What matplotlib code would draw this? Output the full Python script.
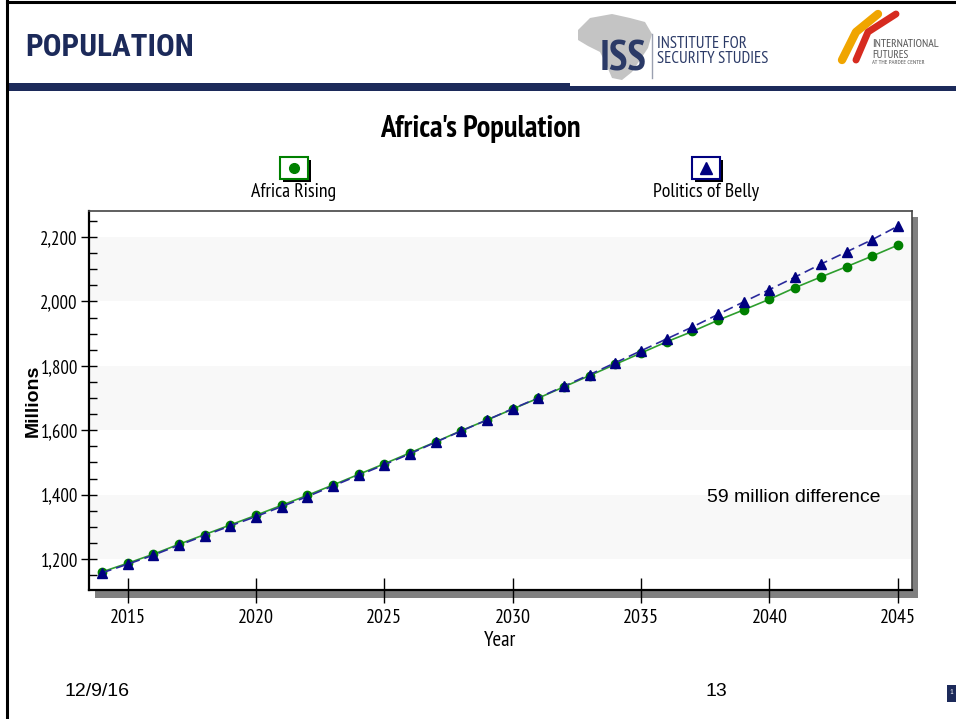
import matplotlib
matplotlib.use('Agg')
import matplotlib.pyplot as plt
from matplotlib.patches import Rectangle, Polygon
from matplotlib.lines import Line2D
from matplotlib.ticker import MultipleLocator, FuncFormatter

narrow = ['PT Sans Narrow', 'Archivo Narrow', 'Liberation Sans', 'DejaVu Sans']
cond = ['Roboto Condensed', 'PT Sans Narrow', 'Liberation Sans', 'DejaVu Sans']
plain = ['Liberation Sans', 'DejaVu Sans']
plt.rcParams['font.family'] = narrow

years = list(range(2014, 2046))
africa_rising = [1160, 1187, 1215, 1246, 1276, 1306, 1336, 1367, 1398, 1430,
                 1463, 1496, 1530, 1564, 1599, 1632, 1666, 1700, 1735, 1770,
                 1805, 1840, 1875, 1907, 1942, 1974, 2007, 2043, 2076, 2108,
                 2141, 2175]
politics_of_belly = [1157, 1184, 1212, 1243, 1273, 1303, 1332, 1363, 1394, 1427,
                     1460, 1493, 1527, 1563, 1598, 1632, 1667, 1701, 1737, 1773,
                     1810, 1847, 1884, 1921, 1960, 1999, 2037, 2076, 2116, 2154,
                     2192, 2234]
series_names = ['Africa Rising', 'Politics of Belly']
band_ranges = [(1200, 1400), (1600, 1800), (2000, 2200)]

W, H = 956, 719
navy = '#1c2a5a'
green = '#008000'
blue = '#000080'


def fx(px):
    return px / W


def fy(py):
    return 1 - py / H


fig = plt.figure(figsize=(W / 100, H / 100), dpi=100)

# slide frame + header bar
fig.add_artist(Line2D([fx(7), fx(7)], [0, 1], color='black', lw=2.2))
fig.add_artist(Line2D([fx(7), 1], [fy(2), fy(2)], color='black', lw=2.2))
fig.add_artist(Rectangle((fx(8), fy(91)), fx(562), 8 / H, color=navy, lw=0))
fig.add_artist(Rectangle((fx(570), fy(91)), fx(386), 5 / H, color=navy, lw=0))
fig.text(fx(25), fy(47), 'POPULATION', fontsize=22.5, fontweight='bold',
         color=navy, va='center', ha='left', family=cond)

# ISS logo (rough)
africa = [(578, 30), (590, 18), (612, 14), (630, 18), (645, 22), (652, 34),
          (648, 48), (640, 60), (632, 72), (622, 80), (612, 78), (606, 64),
          (600, 52), (588, 46), (578, 40)]
fig.add_artist(Polygon([(fx(a), fy(b)) for a, b in africa], closed=True,
                       color='#c4c4c4', lw=0))
fig.text(fx(623), fy(60), 'ISS', fontsize=30, fontweight='bold', color='#2b3a67',
         ha='center', va='center')
fig.add_artist(Line2D([fx(652), fx(652)], [fy(34), fy(78)], color='#9aa0b0', lw=1))
fig.text(fx(657), fy(44), 'INSTITUTE FOR', fontsize=12, color='#2b3a67', va='center')
fig.text(fx(657), fy(59), 'SECURITY STUDIES', fontsize=12, color='#2b3a67', va='center')

# IFs logo (rough)
fig.add_artist(Line2D([fx(842), fx(856), fx(878)], [fy(60), fy(32), fy(14)],
                      color='#f0a500', lw=6, solid_capstyle='round'))
fig.add_artist(Line2D([fx(856), fx(868), fx(896)], [fy(60), fy(32), fy(14)],
                      color='#d62b1f', lw=5, solid_capstyle='round'))
fig.text(fx(872), fy(44), 'INTERNATIONAL', fontsize=8.5, color='#555555', va='center')
fig.text(fx(872), fy(55), 'FUTURES', fontsize=8, color='#555555', va='center')
fig.text(fx(872), fy(63), 'AT THE PARDEE CENTER', fontsize=4.5, color='#555555', va='center')

# chart title
fig.text(fx(480), fy(129), "Africa's Population", fontsize=22, fontweight='bold',
         ha='center', va='center')

# legend boxes
legend_items = [(294, green, 'o', 7, series_names[0]),
                (706, blue, '^', 8, series_names[1])]
for cx, col, mk, ms, name in legend_items:
    fig.add_artist(Rectangle((fx(cx - 11), fy(182)), 28 / W, 22 / H,
                             facecolor='black', edgecolor='none', zorder=1))
    fig.add_artist(Rectangle((fx(cx - 14), fy(179)), 28 / W, 22 / H,
                             facecolor='white', edgecolor=col, lw=1.5, zorder=2))
    fig.add_artist(Line2D([fx(cx)], [fy(168)], marker=mk, color=col,
                          markersize=ms, zorder=3))
    fig.text(fx(cx), fy(192), name, fontsize=14.2, ha='center', va='center')

# axes shadow
fig.add_artist(Rectangle((fx(95), fy(598)), 823 / W, (598 - 217) / H,
                         facecolor='#808080', edgecolor='none', zorder=-1))

ax = fig.add_axes([fx(89), fy(590), (912 - 89) / W, (590 - 211) / H])
ax.set_facecolor('white')
for lo, hi in band_ranges:
    ax.axhspan(lo, hi, color='#f8f8f8', lw=0, zorder=0)

ax.plot(years, africa_rising, color='#2e9e2e', lw=1.2, marker='o', markersize=6,
        mfc=green, mec=green, label=series_names[0], zorder=3)
ax.plot(years, politics_of_belly, color='#2a2a9c', lw=1.2, ls=(0, (6, 3)), marker='^',
        markersize=7, mfc=blue, mec=blue, label=series_names[1], zorder=4)

ax.set_xlim(2013.5, 2045.55)
ax.set_ylim(1104, 2281)
ax.xaxis.set_major_locator(MultipleLocator(5))
ax.yaxis.set_major_locator(MultipleLocator(200))
ax.yaxis.set_minor_locator(MultipleLocator(50))
ax.yaxis.set_major_formatter(FuncFormatter(lambda v, p: f'{int(v):,}'))
ax.tick_params(axis='x', which='major', direction='inout', length=18, width=1,
               labelsize=14.5, pad=5)
ax.tick_params(axis='y', which='major', direction='inout', length=12, width=1,
               labelsize=13.5, pad=2)
ax.tick_params(axis='y', which='minor', direction='in', length=6, width=1)
for side in ['left', 'bottom']:
    ax.spines[side].set_linewidth(1.6)
    ax.spines[side].set_color('black')
for side in ['top', 'right']:
    ax.spines[side].set_linewidth(1.2)
    ax.spines[side].set_color('#444444')

ax.set_xlabel('Year', fontsize=15)
ax.set_ylabel('Millions', fontsize=14, fontweight='bold', family=plain)
ax.xaxis.set_label_coords(0.5, -(641 - 590) / 379, transform=ax.transAxes)
ax.yaxis.set_label_coords(-(89 - 33) / 823, 0.5, transform=ax.transAxes)
ax.xaxis.label.set_va('center')
ax.yaxis.label.set_va('center')

ax.text(2037.55, 1390, '59 million difference', fontsize=14,
        family=plain, va='center', ha='left')

# footer
fig.text(fx(65), fy(691), '12/9/16', fontsize=14, family=plain, va='center')
fig.text(fx(716), fy(691), '13', fontsize=14, family=plain, va='center', ha='center')
fig.add_artist(Rectangle((fx(947), fy(702)), 9 / W, 17 / H, color=navy, lw=0))
fig.text(fx(951), fy(693), '1', fontsize=6, color='white', ha='center', va='center')

fig.savefig('out.png', dpi=100)
